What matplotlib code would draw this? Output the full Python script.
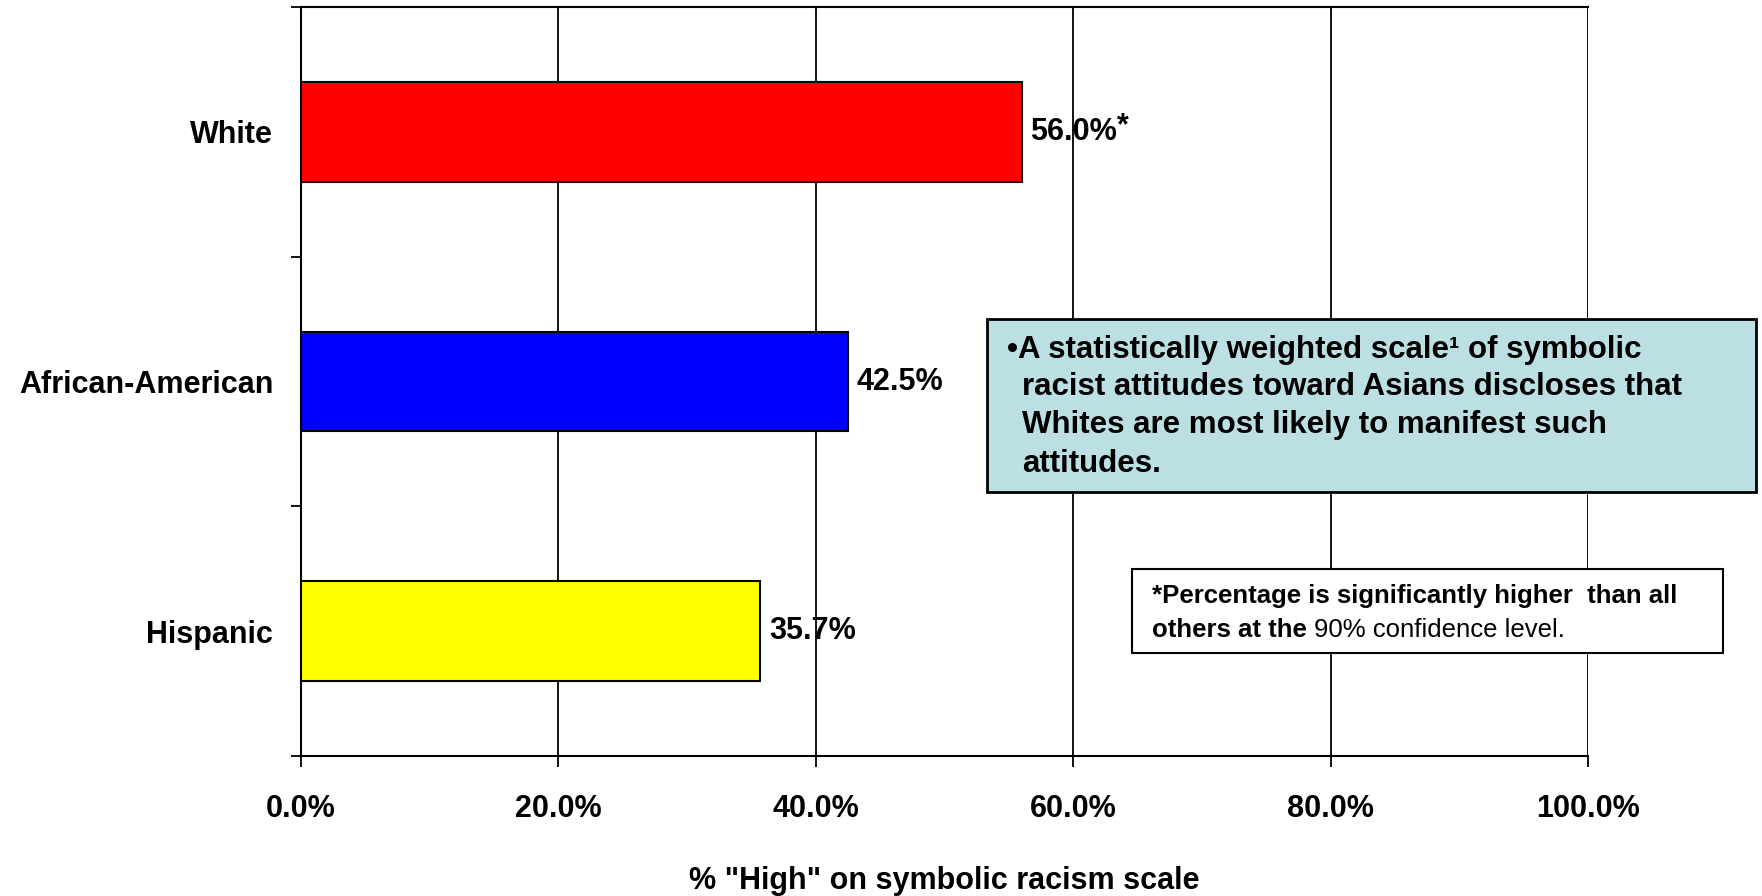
import matplotlib
matplotlib.use("Agg")
import matplotlib.pyplot as plt
from matplotlib.patches import Rectangle
from matplotlib.text import Annotation
from matplotlib.ticker import FixedLocator, PercentFormatter

categories = ["White", "African-American", "Hispanic"]
values = [56.0, 42.5, 35.7]
bar_colors = ["#FF0000", "#0000FF", "#FFFF00"]
value_labels = ["56.0%", "42.5%", "35.7%"]
significant = [True, False, False]
x_ticks = [0, 20, 40, 60, 80, 100]
x_label = '% "High" on symbolic racism scale'
box_lines = ["\u2022A statistically weighted scale\u00b9 of symbolic",
             "racist attitudes toward Asians discloses that",
             "Whites are most likely to manifest such",
             "attitudes."]
note_line1 = "*Percentage is significantly higher  than all"
note_line2_bold = "others at the "
note_line2_reg = "90% confidence level."

W, H = 1762, 896
fam = ["Liberation Sans", "DejaVu Sans"]
plt.rcParams["font.family"] = fam
FS = 22

fig = plt.figure(figsize=(W / 100, H / 100), dpi=100)
ax = fig.add_axes([301 / W, 1 - 756 / H, (1588 - 301) / W, (756 - 7) / H])

ypos = list(range(len(categories)))
ax.barh(ypos, values, height=0.4, color=bar_colors, edgecolor="black", linewidth=1.5, zorder=3)
ax.set_xlim(0, 100)
ax.set_ylim(len(categories) - 0.5, -0.5)

ax.set_xticks(x_ticks)
ax.xaxis.set_major_formatter(PercentFormatter(decimals=1))
ax.grid(axis="x", color="black", linewidth=1.3, zorder=0)
ax.tick_params(axis="x", direction="out", length=8, width=1.3, pad=19, labelsize=FS)
for lab in ax.get_xticklabels():
    lab.set_fontweight("bold")

ax.set_yticks(ypos)
ax.set_yticklabels(categories, fontsize=FS, fontweight="bold")
ax.tick_params(axis="y", which="major", length=0, pad=20)
ax.yaxis.set_minor_locator(FixedLocator([-0.5 + i for i in range(len(categories) + 1)]))
ax.tick_params(axis="y", which="minor", direction="out", length=7, width=1.3)

for s in ax.spines.values():
    s.set_linewidth(1.5)
    s.set_color("black")
ax.spines["right"].set_visible(False)

ax.set_xlabel(x_label, fontsize=FS, fontweight="bold", labelpad=30.5)

for y, v, lab, sig in zip(ypos, values, value_labels, significant):
    t = ax.annotate(lab, xy=(v, y), xytext=(6, 0), textcoords="offset points",
                    ha="left", va="center", fontsize=FS, fontweight="bold", zorder=5)
    if sig:
        ax.annotate("*", xy=(1, 1), xycoords=t, xytext=(0, 4), textcoords="offset points",
                    ha="left", va="top", fontsize=FS, fontweight="bold")

# blue annotation box
fig.patches.append(Rectangle((987 / W, 1 - 492 / H), (1756 - 987) / W, (492 - 319) / H,
                             transform=fig.transFigure, facecolor="#BBDFE3",
                             edgecolor="black", linewidth=2, zorder=10))
xs = [1007, 1022, 1022, 1022]
bases = [358, 395, 433, 472]
for line, x0, b in zip(box_lines, xs, bases):
    fig.text(x0 / W, 1 - b / H, line, fontsize=22.5, fontweight="bold",
             ha="left", va="baseline", zorder=11)

# footnote box
fig.patches.append(Rectangle((1132 / W, 1 - 653 / H), (1723 - 1132) / W, (653 - 569) / H,
                             transform=fig.transFigure, facecolor="white",
                             edgecolor="black", linewidth=1.5, zorder=10))
NFS = 18.5
fig.text(1152 / W, 1 - 603 / H, note_line1, fontsize=NFS, fontweight="bold",
         ha="left", va="baseline", zorder=11)
t2 = fig.text(1152 / W, 1 - 637 / H, note_line2_bold, fontsize=NFS, fontweight="bold",
              ha="left", va="baseline", zorder=11)
ann = Annotation(note_line2_reg, xy=(1, 0), xycoords=t2, xytext=(0, 0),
                 textcoords="offset points", ha="left", va="bottom", fontsize=NFS,
                 annotation_clip=False, zorder=11)
fig.add_artist(ann)

fig.savefig("out.png", dpi=100)
